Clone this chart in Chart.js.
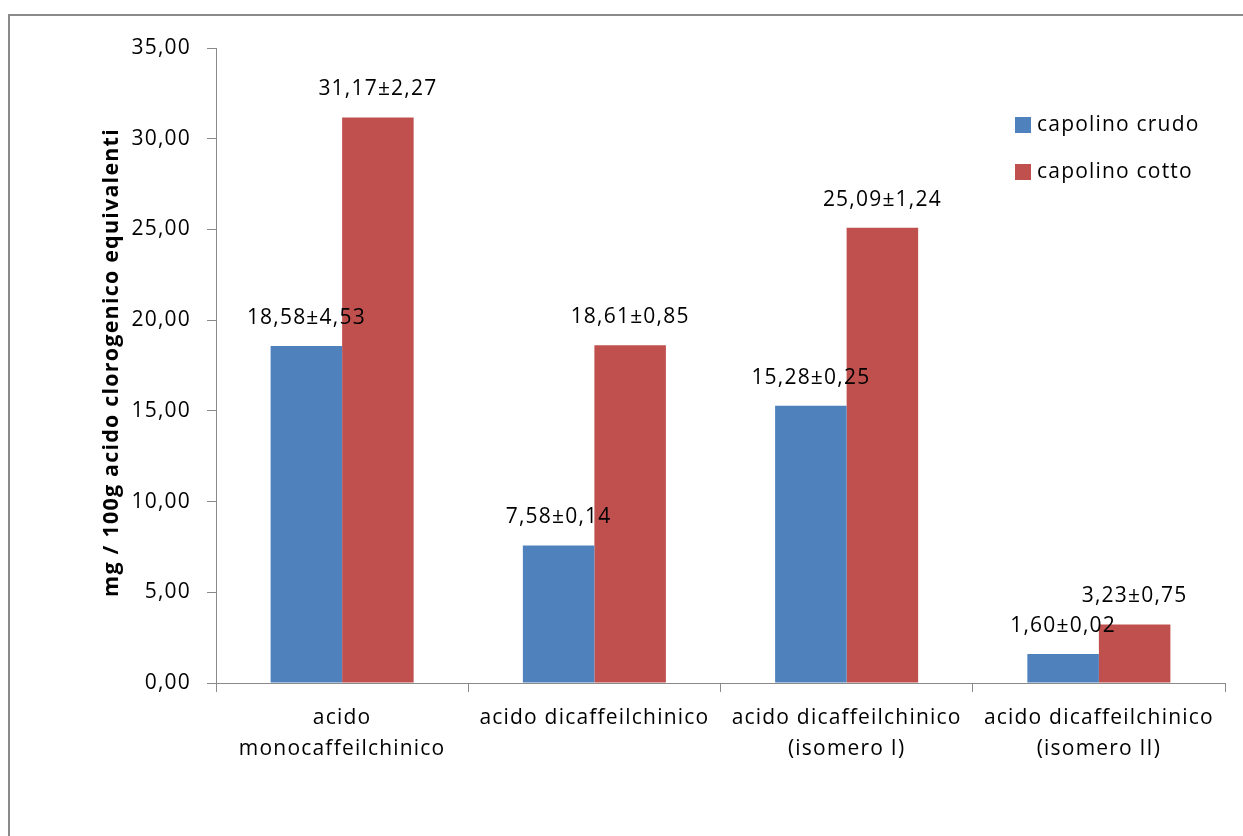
<!DOCTYPE html>
<html>
<head>
<meta charset="utf-8">
<script src="https://cdn.jsdelivr.net/npm/chart.js@4/dist/chart.umd.min.js"></script>
<style>
  html, body { margin: 0; padding: 0; background: #fff; }
  #wrap { position: relative; width: 1243px; height: 836px; overflow: hidden; }
  #frame { position: absolute; left: 8px; top: 14px; width: 1300px; height: 900px;
           border-left: 2px solid #8a8a8a; border-top: 2px solid #8a8a8a; pointer-events: none; }
  canvas { position: absolute; left: 0; top: 0; }
</style>
</head>
<body>
<div id="wrap">
  <canvas id="c" width="1243" height="836"></canvas>
  <div id="frame"></div>
</div>
<script>
// Categories (x axis, multi-line labels)
const categories = [
  ['acido', 'monocaffeilchinico'],
  'acido dicaffeilchinico',
  ['acido dicaffeilchinico', '(isomero I)'],
  ['acido dicaffeilchinico', '(isomero II)']
];

// Series: mean values and standard deviations
const seriesNames = ['capolino crudo', 'capolino cotto'];
const crudoValues = [18.58, 7.58, 15.28, 1.60];
const crudoErrors = [4.53, 0.14, 0.25, 0.02];
const cottoValues = [31.17, 18.61, 25.09, 3.23];
const cottoErrors = [2.27, 0.85, 1.24, 0.75];

// Y axis tick values and title
const yTicks = [0, 5, 10, 15, 20, 25, 30, 35];
const yTitle = 'mg / 100g acido clorogenico equivalenti';

const BLUE = '#4f81bd';
const RED = '#c0504d';
const AXIS = '#8a8a8a';
const FONT = '"Open Sans", Lato, sans-serif';
const SPACING = '1.2px';

const fmt = v => v.toFixed(2).replace('.', ',');

// Slightly wider letter spacing for all chart text
const spacing = {
  id: 'spacing',
  beforeInit(chart) { chart.ctx.letterSpacing = SPACING; },
  beforeDraw(chart) { chart.ctx.letterSpacing = SPACING; }
};

// Writes "mean±sd" above every bar
const valueLabels = {
  id: 'valueLabels',
  afterDatasetsDraw(chart) {
    const ctx = chart.ctx;
    ctx.save();
    ctx.letterSpacing = SPACING;
    ctx.font = '21px ' + FONT;
    ctx.fillStyle = '#000';
    ctx.textAlign = 'center';
    ctx.textBaseline = 'middle';
    chart.data.datasets.forEach((ds, i) => {
      const meta = chart.getDatasetMeta(i);
      meta.data.forEach((bar, j) => {
        const txt = fmt(ds.data[j]) + '±' + fmt(ds.errors[j]);
        ctx.fillText(txt, bar.x, bar.y - 28);
      });
    });
    ctx.restore();
  }
};

// Legend at the upper right of the plot, plus the rotated y title
const extras = {
  id: 'extras',
  afterDraw(chart) {
    const ctx = chart.ctx;
    ctx.save();
    ctx.letterSpacing = SPACING;
    ctx.font = '21px ' + FONT;
    ctx.textBaseline = 'middle';
    ctx.textAlign = 'left';
    chart.data.datasets.forEach((ds, i) => {
      const y = 125 + i * 47;
      ctx.fillStyle = ds.backgroundColor;
      ctx.fillRect(1015, y - 8, 16, 16);
      ctx.fillStyle = '#000';
      ctx.fillText(ds.label, 1037, y);
    });
    const area = chart.chartArea;
    ctx.translate(112, (area.top + area.bottom) / 2 - 3);
    ctx.rotate(-Math.PI / 2);
    ctx.textAlign = 'center';
    ctx.font = 'bold 21.5px ' + FONT;
    ctx.fillText(yTitle, 0, 0);
    ctx.restore();
  }
};

new Chart(document.getElementById('c'), {
  type: 'bar',
  data: {
    labels: categories,
    datasets: [
      { label: seriesNames[0], data: crudoValues, errors: crudoErrors, backgroundColor: BLUE },
      { label: seriesNames[1], data: cottoValues, errors: cottoErrors, backgroundColor: RED }
    ]
  },
  options: {
    responsive: false,
    animation: false,
    layout: { padding: { left: 0, top: 48, right: 18, bottom: 0 } },
    datasets: { bar: { categoryPercentage: 0.567, barPercentage: 1.0 } },
    plugins: {
      legend: { display: false },
      tooltip: { enabled: false }
    },
    scales: {
      x: {
        grid: { display: true, drawOnChartArea: false, color: AXIS, tickLength: 9, offset: true },
        border: { color: AXIS, width: 1 },
        ticks: { color: '#000', font: { family: FONT, size: 21, lineHeight: 1.45 }, maxRotation: 0, autoSkip: false, padding: 11 },
        afterFit(s) { s.height = 836 - 683; }
      },
      y: {
        min: 0, max: 35,
        afterBuildTicks(s) { s.ticks = yTicks.map(v => ({ value: v })); },
        grid: { display: true, drawOnChartArea: false, color: AXIS, tickLength: 9 },
        border: { color: AXIS, width: 1 },
        ticks: { color: '#000', font: { family: FONT, size: 21 }, padding: 16, callback: v => fmt(v) },
        afterFit(s) { s.width = 216; }
      }
    }
  },
  plugins: [spacing, valueLabels, extras]
});
</script>
</body>
</html>
